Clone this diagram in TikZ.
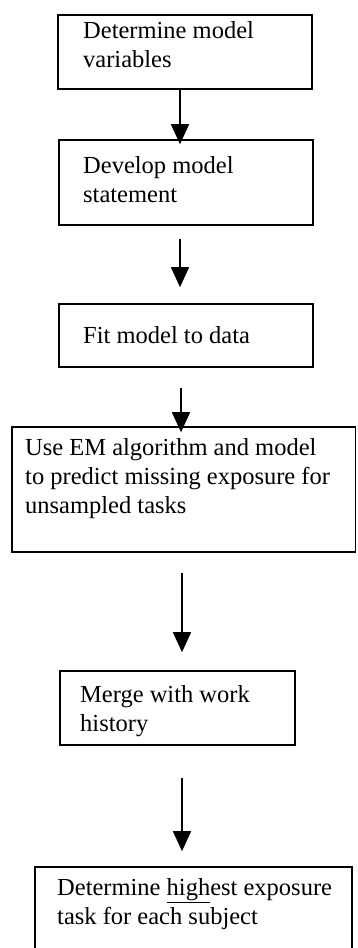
\documentclass[tikz,border=0pt]{standalone}
\usepackage{fontspec}
\setmainfont{Liberation Serif}
\usetikzlibrary{arrows.meta}
\begin{document}
\begin{tikzpicture}[x=1pt,y=-1pt,
  box/.style={draw=black, line width=1.6pt, inner sep=0pt},
  txt/.style={anchor=north west, inner sep=0pt, align=left,
    font=\fontsize{24.5pt}{29pt}\selectfont},
  arr/.style={line width=1.5pt, -{Triangle[width=18pt,length=20pt]}}]
\fill[white] (0,0) rectangle (357,948);
\useasboundingbox (0,0) rectangle (357,948);
\clip (0,0) rectangle (357,948);
% boxes
\node[box, minimum width=254pt, minimum height=74pt] (b1) at (185,52) {};
\node[box, minimum width=254pt, minimum height=85pt] (b2) at (186,182.5) {};
\node[box, minimum width=254pt, minimum height=63pt] (b3) at (186,335.5) {};
\node[box, minimum width=343.5pt, minimum height=125pt] (b4) at (183.75,489.5) {};
\node[box, minimum width=235pt, minimum height=74pt] (b5) at (177.5,708) {};
\node[box, minimum width=317pt, minimum height=123pt] (b6) at (193.5,928.5) {};
% texts
\node[txt] (t1) at (83,21.5) {Determine model\\variables};
\node[txt] (t2) at (83,156) {Develop model\\statement};
\node[txt] (t3) at (83,326) {Fit model to data};
\node[txt] (t4) at (25,438) {Use EM algorithm and model\\to predict missing exposure for\\unsampled tasks};
\node[txt] (t5) at (80,685) {Merge with work\\history};
\node[txt] (t6) at (57,878) {Determine \underline{high}est exposure\\task for each subject};
% arrow columns
\coordinate (c1) at (180,0);
\coordinate (c2) at (180,0);
\coordinate (c3) at (181,0);
\coordinate (c4) at (182,0);
\coordinate (c5) at (182,0);
% connectors
\draw[arr, shorten >=-5pt] (b1.south -| c1) -- (b2.north -| c1);
\draw[arr, shorten <=13pt, shorten >=16pt] (b2.south -| c2) -- (b3.north -| c2);
\draw[arr, shorten <=20pt, shorten >=-6pt] (b3.south -| c3) -- (b4.north -| c3);
\draw[arr, shorten <=20pt, shorten >=18pt] (b4.south -| c4) -- (b5.north -| c4);
\draw[arr, shorten <=32pt, shorten >=15pt] (b5.south -| c5) -- (b6.north -| c5);
\end{tikzpicture}
\end{document}
